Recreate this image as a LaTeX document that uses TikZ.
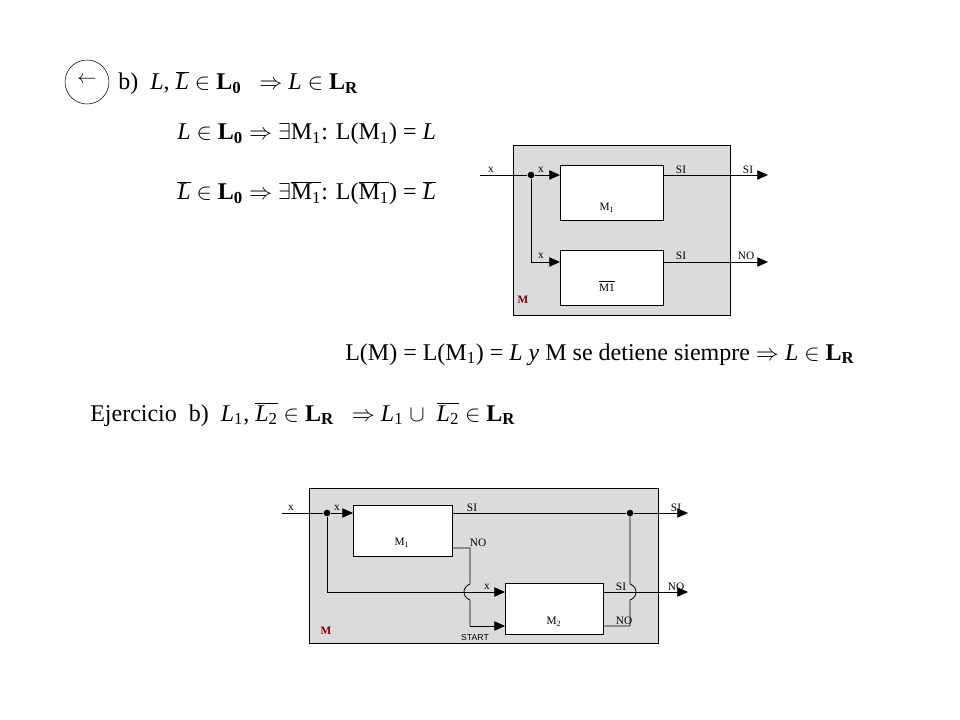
\documentclass[tikz,border=0pt]{standalone}
\usepackage{fontspec}
\setmainfont{Liberation Serif}
\setsansfont{Liberation Sans}
\usetikzlibrary{arrows.meta}
\begin{document}
\begin{tikzpicture}[x=0.75pt,y=-0.75pt,
  txt/.style={anchor=base west,inner sep=0pt,font=\fontsize{18}{20}\selectfont},
  lbl/.style={inner sep=0pt,font=\fontsize{8.5}{9}\selectfont},
  blk/.style={draw,fill=white,line width=0.6pt},
  panel/.style={draw,fill=black!14,line width=0.6pt},
  wire/.style={line width=0.6pt},
  arr/.style={wire,-{Triangle[length=8pt,width=7pt]}},
  dot/.style={circle,fill,inner sep=0pt,minimum size=5pt}]
\useasboundingbox (0,0) rectangle (960,720);
\newcommand{\ov}[1]{$\overline{\mbox{#1}}$}
% --- texts
\node[draw,circle,minimum size=33pt,inner sep=0pt] (circ) at (87,82) {};
\node[font=\Large,inner sep=0pt] (arrl) at (87,80) {$\leftarrow$};
\node[txt] (t1) at (118,90) {b)\ \ \textit{L}, \ov{\textit{L}} $\in$ \textbf{L\textsubscript{0}}\ \ \ $\Rightarrow$ \textit{L} $\in$ \textbf{L\textsubscript{R}}};
\node[txt] (t2) at (177,140) {\textit{L} $\in$ \textbf{L\textsubscript{0}} $\Rightarrow$ $\exists$M\textsubscript{1}: L(M\textsubscript{1}) = \textit{L}};
\node[txt] (t3) at (177,200) {\ov{\textit{L}} $\in$ \textbf{L\textsubscript{0}} $\Rightarrow$ $\exists$\ov{M\textsubscript{1}}: L(\ov{M\textsubscript{1}}) = \ov{\textit{L}}};
\node[txt] (t4) at (345,360) {L(M) = L(M\textsubscript{1}) = \textit{L y} M se detiene siempre $\Rightarrow$ \textit{L} $\in$ \textbf{L\textsubscript{R}}};
\node[txt] (t5) at (90,421) {Ejercicio\ \ b)\ \ \textit{L}\textsubscript{1}, \ov{\textit{L}\textsubscript{2}} $\in$ \textbf{L\textsubscript{R}}\ \ \ $\Rightarrow$ \textit{L}\textsubscript{1} $\cup$\ \ \ov{\textit{L}\textsubscript{2}} $\in$ \textbf{L\textsubscript{R}}};
% --- top diagram
\node[panel,minimum width=217pt*0.75,minimum height=170pt*0.75,anchor=north west] (P1) at (513,145) {};
\node[blk,minimum width=103pt*0.75,minimum height=55pt*0.75,anchor=north west] (A) at (560,165) {};
\node[blk,minimum width=103pt*0.75,minimum height=55pt*0.75,anchor=north west] (B) at (560,250) {};
\node[lbl] (Al) at (607,208) {M\textsubscript{1}};
\node[lbl] (Bl) at (607,286) {\ov{M1}};
\node[lbl,text=red!50!black,font=\bfseries\fontsize{8.5}{9}\selectfont] (Pm) at (523,300) {M};
\coordinate (in1) at (480,175);
\node[dot] (d1) at (531,175) {};
\coordinate (o1) at (768,175);
\coordinate (o2) at (768,262);
\draw[wire] (in1) -- (d1);
\draw[arr] (d1) -- (A.west |- d1);
\draw[arr] (d1) |- (B.west |- o2);
\draw[arr] (A.east |- o1) -- (o1);
\draw[arr] (B.east |- o2) -- (o2);
\node[lbl] (l1) at (491,170) {x};
\node[lbl] (l2) at (541,170) {x};
\node[lbl] (l3) at (541,256) {x};
\node[lbl] (l4) at (681,170) {SI};
\node[lbl] (l5) at (681,256) {SI};
\node[lbl] (l6) at (748,170) {SI};
\node[lbl] (l7) at (746,256) {NO};
% --- bottom diagram
\node[panel,minimum width=349pt*0.75,minimum height=155pt*0.75,anchor=north west] (P2) at (309,488) {};
\node[blk,minimum width=99pt*0.75,minimum height=51pt*0.75,anchor=north west] (C) at (353,505) {};
\node[blk,minimum width=98pt*0.75,minimum height=51pt*0.75,anchor=north west] (D) at (505,583) {};
\node[lbl] (Cl) at (402,543) {M\textsubscript{1}};
\node[lbl] (Dl) at (554,622) {M\textsubscript{2}};
\node[lbl,text=red!50!black,font=\bfseries\fontsize{8.5}{9}\selectfont] (Pm2) at (326,631) {M};
\coordinate (in2) at (282,513);
\node[dot] (d2) at (327,513) {};
\node[dot] (d3) at (630,513) {};
\coordinate (q1) at (688,513);
\coordinate (q2) at (688,592);
\draw[wire] (in2) -- (d2);
\draw[arr] (d2) -- (C.west |- d2);
\draw[wire] (C.east |- d2) -- (d3);
\draw[arr] (d3) -- (q1);
\draw[arr] (d2) |- (D.west |- q2);
\draw[arr] (D.east |- q2) -- (q2);
\draw[wire] (C.east |- 0,548) -- (470,548) -- (470,584) .. controls (462,587) and (462,597) .. (470,600) -- (470,626);
\draw[arr] (470,626) -- (D.west |- 0,626);
\draw[wire] (d3) -- (630,584) .. controls (638,587) and (638,597) .. (630,600) -- (630,626) -- (D.east |- 0,626);
\node[lbl] (m1) at (291,508) {x};
\node[lbl] (m2) at (337,508) {x};
\node[lbl] (m3) at (472,508) {SI};
\node[lbl] (m4) at (676,508) {SI};
\node[lbl] (m5) at (478,543) {NO};
\node[lbl] (m6) at (487,587) {x};
\node[lbl] (m7) at (621,587) {SI};
\node[lbl] (m8) at (676,587) {NO};
\node[lbl] (m9) at (624,621) {NO};
\node[lbl,font=\sffamily\fontsize{6.5}{7}\selectfont] (m10) at (475,638) {START};
\end{tikzpicture}
\end{document}
